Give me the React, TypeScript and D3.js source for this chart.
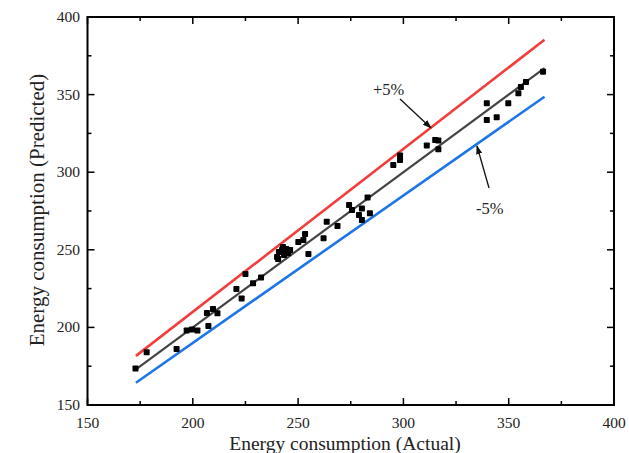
import React from "react";
import * as d3 from "d3";

// Actual vs predicted energy consumption
const actual = [
  172.8, 178.1, 192.3, 197.1, 199.6, 202.2, 207.4, 206.7, 209.6, 211.7,
  220.7, 223.2, 225.0, 228.6, 232.4,
  240.0, 240.9, 242.4, 243.3, 244.3, 245.2, 246.2, 240.5, 242.8,
  250.1, 253.3, 252.5, 254.9, 262.1, 263.6, 268.7,
  274.2, 275.6, 278.9, 280.3, 280.3, 283.0, 284.1,
  295.2, 298.4, 298.4, 311.1, 315.1, 316.6, 316.6,
  339.6, 349.8, 339.6, 344.3, 354.6, 355.8, 358.2, 366.3,
];
const predicted = [
  173.5, 184.0, 186.1, 198.0, 198.6, 198.0, 200.9, 209.3, 211.9, 209.1,
  224.7, 218.7, 234.4, 228.4, 232.2,
  245.4, 248.6, 249.9, 246.7, 250.5, 247.9, 249.9, 244.1, 251.8,
  255.0, 260.2, 256.3, 247.3, 257.4, 268.1, 265.3,
  278.9, 275.6, 272.4, 276.6, 269.2, 283.7, 273.5,
  304.6, 307.9, 310.8, 317.2, 320.7, 320.4, 314.8,
  344.4, 344.4, 333.6, 335.4, 350.8, 354.9, 358.1, 364.8,
];

const lineRange = [173, 367];
const xTicks = [150, 200, 250, 300, 350, 400];
const yTicks = [150, 200, 250, 300, 350, 400];
const xMinor = [175, 225, 275, 325, 375];
const yMinor = [175, 225, 275, 325, 375];

const W = 629;
const H = 453;
const left = 87.5;
const right = 614;
const top = 17;
const bottom = 405;

const FONT = "'Liberation Serif', 'DejaVu Serif', serif";

export default function App() {
  const x = d3.scaleLinear().domain([150, 400]).range([left, right]);
  const y = d3.scaleLinear().domain([150, 400]).range([bottom, top]);

  const line = d3
    .line<[number, number]>()
    .x((d) => x(d[0]))
    .y((d) => y(d[1]));

  const bandLine = (factor: number) =>
    line(lineRange.map((v) => [v, v * factor] as [number, number])) || "";

  const major = 7;
  const minor = 4;
  const ms = 6;

  return (
    <svg
      width={W}
      height={H}
      style={{ position: "absolute", left: 0, top: 0, background: "#fff" }}
    >
      <defs>
        <marker
          id="arrow"
          viewBox="0 0 10 10"
          refX="9"
          refY="5"
          markerWidth="7"
          markerHeight="7"
          orient="auto"
        >
          <path d="M0,1.5 L10,5 L0,8.5 z" fill="#111" />
        </marker>
      </defs>

      {/* +5% / -5% bounds and fitted line */}
      <path d={bandLine(1.05)} fill="none" stroke="#f23d3d" strokeWidth={2.6} />
      <path d={bandLine(0.95)} fill="none" stroke="#1e76e6" strokeWidth={2.6} />
      <path d={bandLine(1)} fill="none" stroke="#444" strokeWidth={2.2} />

      {/* points */}
      {actual.map((a, i) => (
        <rect
          key={i}
          x={x(a) - ms / 2}
          y={y(predicted[i]) - ms / 2}
          width={ms}
          height={ms}
          rx={0.8}
          fill="#000"
        />
      ))}

      {/* annotations */}
      <text x={373} y={95} fontFamily={FONT} fontSize={16.5} fill="#222">
        +5%
      </text>
      <line
        x1={400}
        y1={99}
        x2={431}
        y2={128}
        stroke="#111"
        strokeWidth={1.3}
        markerEnd="url(#arrow)"
      />
      <text x={476} y={214} fontFamily={FONT} fontSize={16.5} fill="#222">
        -5%
      </text>
      <line
        x1={489}
        y1={188}
        x2={477}
        y2={146}
        stroke="#111"
        strokeWidth={1.3}
        markerEnd="url(#arrow)"
      />

      {/* frame */}
      <rect
        x={left}
        y={top}
        width={right - left}
        height={bottom - top}
        fill="none"
        stroke="#000"
        strokeWidth={2}
      />

      {/* x ticks */}
      {xTicks.map((t) => (
        <g key={"xt" + t}>
          <line x1={x(t)} x2={x(t)} y1={bottom} y2={bottom - major} stroke="#000" strokeWidth={1.5} />
          <line x1={x(t)} x2={x(t)} y1={top} y2={top + major} stroke="#000" strokeWidth={1.5} />
          <text
            x={x(t)}
            y={428}
            textAnchor="middle"
            fontFamily={FONT}
            fontSize={15.5}
            fill="#222"
          >
            {t}
          </text>
        </g>
      ))}
      {xMinor.map((t) => (
        <g key={"xm" + t}>
          <line x1={x(t)} x2={x(t)} y1={bottom} y2={bottom - minor} stroke="#000" strokeWidth={1.5} />
          <line x1={x(t)} x2={x(t)} y1={top} y2={top + minor} stroke="#000" strokeWidth={1.5} />
        </g>
      ))}

      {/* y ticks */}
      {yTicks.map((t) => (
        <g key={"yt" + t}>
          <line x1={left} x2={left + major} y1={y(t)} y2={y(t)} stroke="#000" strokeWidth={1.5} />
          <line x1={right} x2={right - major} y1={y(t)} y2={y(t)} stroke="#000" strokeWidth={1.5} />
          <text
            x={80}
            y={y(t) + 5}
            textAnchor="end"
            fontFamily={FONT}
            fontSize={15.5}
            fill="#222"
          >
            {t}
          </text>
        </g>
      ))}
      {yMinor.map((t) => (
        <g key={"ym" + t}>
          <line x1={left} x2={left + minor} y1={y(t)} y2={y(t)} stroke="#000" strokeWidth={1.5} />
          <line x1={right} x2={right - minor} y1={y(t)} y2={y(t)} stroke="#000" strokeWidth={1.5} />
        </g>
      ))}

      {/* axis titles */}
      <text
        x={345}
        y={450}
        textAnchor="middle"
        fontFamily={FONT}
        fontSize={19.5}
        fill="#222"
      >
        Energy consumption (Actual)
      </text>
      <text
        transform={`translate(44, 210) rotate(-90)`}
        textAnchor="middle"
        fontFamily={FONT}
        fontSize={21}
        fill="#222"
      >
        Energy consumption (Predicted)
      </text>
    </svg>
  );
}
